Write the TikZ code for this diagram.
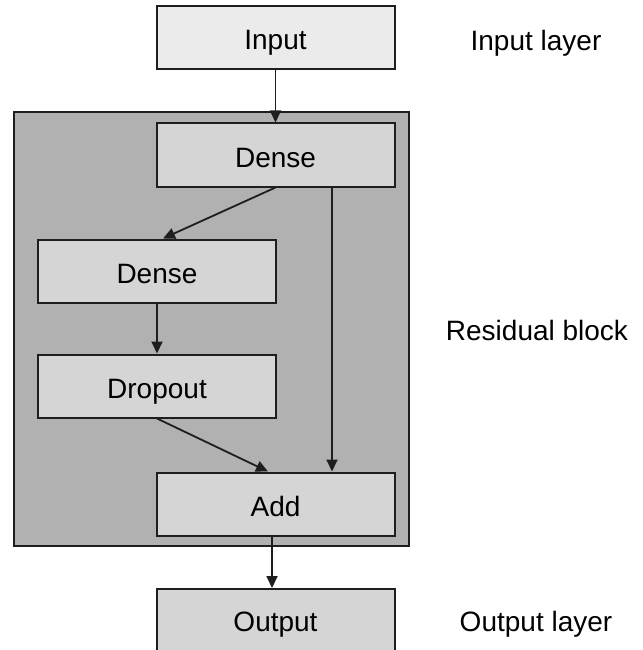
\documentclass[tikz,border=0pt]{standalone}
\usepackage{fontspec}
\setmainfont{Liberation Sans}
\usetikzlibrary{arrows.meta}
\definecolor{blockgray}{HTML}{B1B1B1}
\definecolor{layergray}{HTML}{D5D5D5}
\definecolor{inputgray}{HTML}{EBEBEB}
\definecolor{edgegray}{HTML}{1E1E1E}
\tikzset{
  txt/.style={font=\fontsize{28}{32}\selectfont, text height=24pt, text depth=0pt},
  layerbox/.style={txt, draw=edgegray, line width=2pt, fill=layergray, minimum width=238pt,
    minimum height=63pt, inner sep=0pt},
  sidelabel/.style={txt, inner sep=0pt},
  flow/.style={draw=edgegray, line width=1.8pt, -{Triangle[length=12pt,width=11pt]}}
}
\begin{document}
\begin{tikzpicture}[x=1pt,y=-1pt]
\useasboundingbox (0,0) rectangle (642,650);
% residual block background
\draw[draw=edgegray, line width=2pt, fill=blockgray] (14,112) rectangle (409,546);
% layers
\node[layerbox, fill=inputgray] (input) at (275.5,38) {Input};
\node[layerbox] (dense1) at (275.5,155) {Dense};
\node[layerbox] (dense2) at (157,271) {Dense};
\node[layerbox] (drop) at (157,386) {Dropout};
\node[layerbox] (add) at (275.5,504) {Add};
\node[layerbox, minimum height=70pt, anchor=north] (output) at (275.5,588) {};
\node[txt] (outtext) at (275.5,619) {Output};
% side labels
\node[sidelabel] (lin) at (536,39) {Input layer};
\node[sidelabel] (lres) at (537,328) {Residual block};
\node[sidelabel] (lout) at (536,619) {Output layer};
% connections
\draw[flow] (input.south) -- (dense1.north);
\draw[flow] (dense1.south) -- (dense2.north -| 163,0);
\draw[flow] (dense2.south) -- (drop.north);
\draw[flow] (drop.south) -- (add.north -| 268,0);
\draw[flow] (dense1.south -| 332,0) -- (add.north -| 332,0);
\draw[flow] (add.south -| 272,0) -- (output.north -| 272,0);
\end{tikzpicture}
\end{document}
